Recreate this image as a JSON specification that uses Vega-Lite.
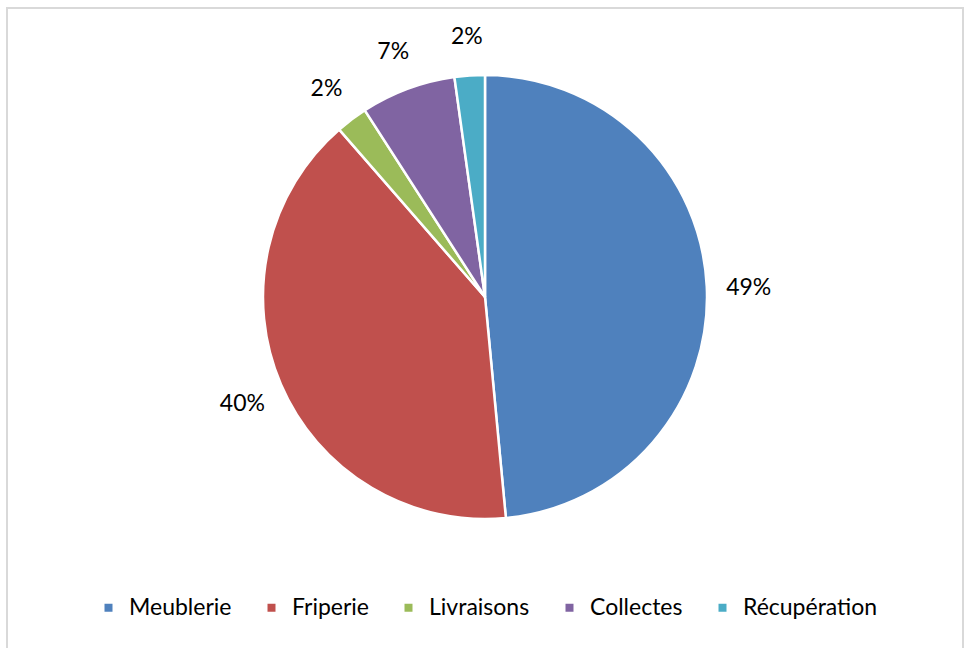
{
  "$schema": "https://vega.github.io/schema/vega-lite/v6.json",
  "width": 956,
  "height": 650,
  "autosize": {"type": "none"},
  "padding": {"left": 7, "top": 8, "right": 1, "bottom": 0},
  "background": "white",
  "view": {"stroke": "#d9d9d9", "strokeWidth": 2, "fill": "white"},
  "config": {"view": {"stroke": "#d9d9d9", "strokeWidth": 2}, "font": "Lato"},
  "data": {"values": [
    {"category": "Meublerie", "value": 48.5, "label": "49%", "order": 1},
    {"category": "Friperie", "value": 40.1, "label": "40%", "order": 2},
    {"category": "Livraisons", "value": 2.3, "label": "2%", "order": 3},
    {"category": "Collectes", "value": 6.9, "label": "7%", "order": 4},
    {"category": "Récupération", "value": 2.2, "label": "2%", "order": 5}
  ]},
  "encoding": {
    "theta": {"field": "value", "type": "quantitative", "stack": true},
    "order": {"field": "order", "type": "quantitative"},
    "color": {
      "field": "category",
      "type": "nominal",
      "sort": null,
      "scale": {
        "domain": ["Meublerie", "Friperie", "Livraisons", "Collectes", "Récupération"],
        "range": ["#4f81bd", "#c0504d", "#9bbb59", "#8064a2", "#4bacc6"]
      },
      "legend": {
        "title": null,
        "orient": "none",
        "legendX": 90,
        "legendY": 588,
        "direction": "horizontal",
        "symbolType": "square",
        "symbolSize": 64,
        "symbolStrokeWidth": 0,
        "labelFontSize": 23,
        "labelColor": "black",
        "labelOffset": 9,
        "columnPadding": 28,
        "labelLimit": 300
      }
    }
  },
  "layer": [
    {"mark": {"type": "arc", "outerRadius": 222, "stroke": "white", "strokeWidth": 2.5, "yOffset": -36}},
    {
      "mark": {"type": "text", "radius": 264, "fontSize": 23, "yOffset": -33, "align": "center", "baseline": "middle"},
      "encoding": {"text": {"field": "label", "type": "nominal"}, "color": {"value": "black"}}
    }
  ]
}
